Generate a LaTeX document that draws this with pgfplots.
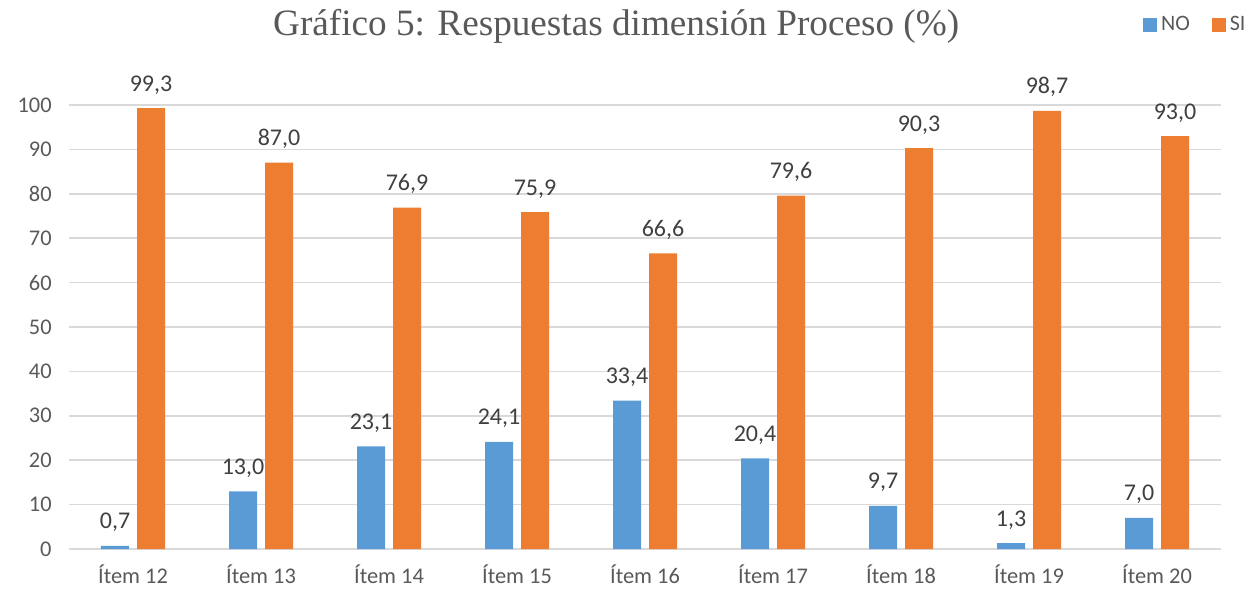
\documentclass[border=0pt]{standalone}
\usepackage{pgfplots}
\pgfplotsset{compat=1.18}
\usepackage{fontspec}
\setmainfont{Carlito}
\newfontfamily\titlefont{Liberation Serif}
\definecolor{cno}{HTML}{5B9BD5}
\definecolor{csi}{HTML}{ED7D31}
\definecolor{cgrid}{HTML}{D9D9D9}
\definecolor{ctext}{HTML}{595959}
\definecolor{clab}{HTML}{404040}
\begin{document}
\begin{tikzpicture}
\useasboundingbox (-34.5bp,-20.5bp) rectangle (590.5bp,274.5bp);
\begin{axis}[
  at={(0,0)}, anchor=south west,
  scale only axis, width=576bp, height=222bp,
  xmin=-0.5, xmax=8.5, ymin=0, ymax=100,
  ybar=4bp, bar width=14bp,
  clip=false,
  axis x line*=bottom, axis y line*=left,
  x axis line style={cgrid, line width=0.75bp, -},
  y axis line style={draw=none},
  xtick={0,...,8},
  xticklabels={Ítem 12,Ítem 13,Ítem 14,Ítem 15,Ítem 16,Ítem 17,Ítem 18,Ítem 19,Ítem 20},
  xtick style={draw=none},
  ytick={0,10,...,100},
  ymajorgrids, grid style={cgrid, line width=0.75bp},
  ytick style={draw=none},
  tick label style={font=\fontsize{11.2bp}{13bp}\selectfont, text=ctext},
  /pgf/number format/assume math mode=true,
  yticklabel style={inner sep=0pt, xshift=-8.5bp},
  xticklabel style={inner sep=0pt, yshift=-3.5bp},
  yticklabel={\pgfmathprintnumber{\tick}},
  nodes near coords={\pgfmathprintnumber[fixed,fixed zerofill,precision=1,use comma,assume math mode=true]{\pgfplotspointmeta}},
  every node near coord/.append style={font=\fontsize{12bp}{14bp}\selectfont, text=clab, inner sep=0pt, anchor=base, yshift=8.5bp},
  title={\titlefont Gráfico 5: Respuestas dimensión Proceso (\%)},
  title style={at={(0.475,1.1306)}, anchor=base, font=\fontsize{18.6bp}{22bp}\selectfont, text=ctext, inner sep=0pt},
  legend style={at={(0.932,1.180)}, anchor=west, draw=none, fill=none, inner sep=0pt,
    font=\fontsize{11bp}{13bp}\selectfont, text=ctext, legend columns=2,
    /tikz/every even column/.append style={column sep=9bp}},
  legend image code/.code={\fill (0bp,-3.5bp) rectangle (7bp,3.5bp);},
]
\addplot[fill=cno, draw=none] coordinates {(0,0.7) (1,13.0) (2,23.1) (3,24.1) (4,33.4) (5,20.4) (6,9.7) (7,1.3) (8,7.0)};
\addplot[fill=csi, draw=none] coordinates {(0,99.3) (1,87.0) (2,76.9) (3,75.9) (4,66.6) (5,79.6) (6,90.3) (7,98.7) (8,93.0)};
\legend{NO,SI}
\end{axis}
\end{tikzpicture}
\end{document}
